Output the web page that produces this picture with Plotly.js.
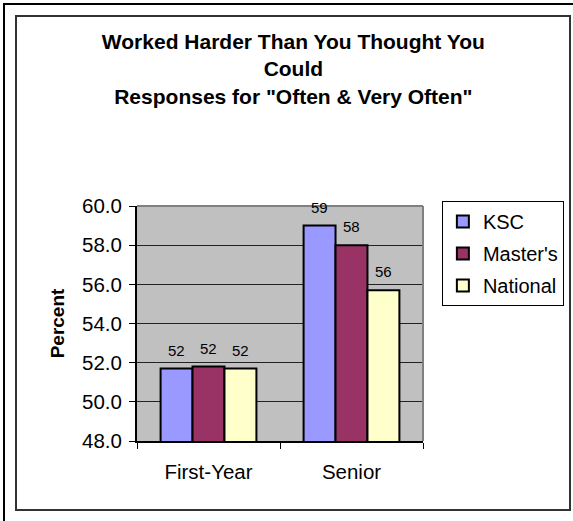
<!DOCTYPE html>
<html>
<head>
<meta charset="utf-8">
<script src="https://cdn.plot.ly/plotly-3.0.1.min.js"></script>
<style>
  html, body { margin: 0; padding: 0; background: #fff; }
  #wrap { position: relative; width: 573px; height: 521px; overflow: hidden; }
  #chart { position: absolute; left: 0; top: 0; width: 573px; height: 521px; }
  #outer { position: absolute; left: 3px; top: 3px; width: 580px; height: 530px;
           border-top: 2px solid #000; border-left: 2px solid #000; pointer-events: none; }
  #inner { position: absolute; left: 15px; top: 15px; width: 552px; height: 492px;
           border: 2px solid #333; pointer-events: none; }
</style>
</head>
<body>
<div id="wrap">
  <div id="chart"></div>
  <div id="outer"></div>
  <div id="inner"></div>
</div>
<script>
// ---- data ----
const categories = ["First-Year", "Senior"];
const seriesNames = ["KSC", "Master's", "National"];
const ksc = [51.7, 59.0];
const masters = [51.8, 58.0];
const national = [51.7, 55.7];
const yTickVals = [48, 50, 52, 54, 56, 58, 60];
const titleText = 'Worked Harder Than You Thought You<br>Could<br>Responses for "Often &amp; Very Often"';

// ---- styles ----
const seriesValues = [ksc, masters, national];
const colors = ["#9999FF", "#993366", "#FFFFCC"];
const FONT = '"Liberation Sans", Arial, sans-serif';
const bargap = 0.33;

const traces = seriesValues.map((vals, k) => ({
  type: 'bar',
  name: seriesNames[k],
  x: categories,
  y: vals,
  legendgroup: 'g' + k,
  marker: { color: colors[k], line: { color: '#000', width: 2 } },
  hoverinfo: 'y'
}));

// value labels above bars, positioned via the axis scale
const w = (1 - bargap) / seriesValues.length;
const annotations = [];
seriesValues.forEach((vals, k) => {
  vals.forEach((v, i) => {
    annotations.push({
      xref: 'x', yref: 'y',
      x: i + (k - (seriesValues.length - 1) / 2) * w,
      y: v,
      text: String(Math.round(v)),
      showarrow: false,
      yanchor: 'bottom',
      yshift: 8,
      font: { family: FONT, size: 15, color: '#000' }
    });
  });
});

const layout = {
  width: 573, height: 521,
  margin: { l: 137, r: 150, t: 206, b: 80, pad: 0, autoexpand: false },
  paper_bgcolor: '#fff',
  plot_bgcolor: '#C0C0C0',
  barmode: 'group',
  bargap: bargap,
  bargroupgap: 0,
  showlegend: true,
  font: { family: FONT, size: 20, color: '#000' },
  title: {
    text: titleText,
    font: { family: FONT, size: 21, color: '#000', weight: 'bold' },
    xref: 'container', yref: 'container',
    x: 0.512, xanchor: 'center',
    y: 1 - 49 / 521, yanchor: 'top'
  },
  xaxis: {
    type: 'category',
    tickson: 'boundaries',
    ticks: 'outside', ticklen: 6, tickwidth: 1, tickcolor: '#000',
    showline: true, linecolor: '#000', linewidth: 2,
    showgrid: false,
    ticklabelstandoff: 11,
    tickfont: { family: FONT, size: 20.5, color: '#000' },
    automargin: false,
    fixedrange: true
  },
  yaxis: {
    range: [48, 60],
    tickvals: yTickVals,
    tickformat: '.1f',
    ticks: 'outside', ticklen: 6, tickwidth: 1, tickcolor: '#000',
    showline: true, linecolor: '#000', linewidth: 2,
    showgrid: true, gridcolor: '#222', gridwidth: 1,
    zeroline: false,
    ticklabelstandoff: 3,
    tickfont: { family: FONT, size: 20.5, color: '#000' },
    title: {
      text: 'Percent',
      font: { family: FONT, size: 19, color: '#000', weight: 'bold' },
      standoff: 12
    },
    automargin: false,
    fixedrange: true
  },
  legend: {
    x: 1.066, xanchor: 'left',
    y: 1.021, yanchor: 'top',
    bgcolor: '#fff', bordercolor: '#000', borderwidth: 1,
    font: { family: FONT, size: 20, color: '#000' },
    traceorder: 'grouped',
    tracegroupgap: 3,
    itemwidth: 30
  },
  shapes: [
    { type: 'line', xref: 'paper', yref: 'paper', x0: 0, x1: 1, y0: 1, y1: 1,
      line: { color: '#808080', width: 2 } },
    { type: 'line', xref: 'paper', yref: 'paper', x0: 1, x1: 1, y0: 0, y1: 1,
      line: { color: '#808080', width: 2 } }
  ],
  annotations: annotations
};

Plotly.newPlot('chart', traces, layout, { displayModeBar: false, staticPlot: true });
</script>
</body>
</html>
